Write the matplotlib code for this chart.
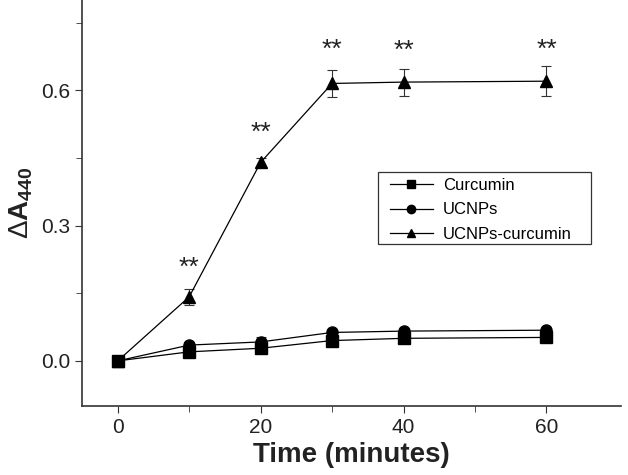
import matplotlib.pyplot as plt
from matplotlib.ticker import MultipleLocator, FixedLocator
from matplotlib.lines import Line2D
from matplotlib.patches import Rectangle

plt.rcParams['font.family'] = ['Liberation Sans', 'DejaVu Sans']
plt.rcParams['mathtext.fontset'] = 'custom'
plt.rcParams['mathtext.rm'] = 'Liberation Sans'
plt.rcParams['mathtext.bf'] = 'Liberation Sans:bold'

# data
time = [0, 10, 20, 30, 40, 60]
curcumin = [0.0, 0.020, 0.028, 0.045, 0.050, 0.052]
curcumin_err = [0.004, 0.006, 0.006, 0.006, 0.005, 0.005]
ucnps = [0.0, 0.035, 0.042, 0.063, 0.066, 0.068]
ucnps_err = [0.004, 0.006, 0.010, 0.006, 0.005, 0.005]
ucnps_cur = [0.0, 0.142, 0.440, 0.615, 0.618, 0.620]
ucnps_cur_err = [0.005, 0.018, 0.010, 0.030, 0.030, 0.033]
star_t = [10, 20, 30, 40, 60]
star_y = [0.207, 0.505, 0.690, 0.687, 0.690]
labels = ['Curcumin', 'UCNPs', 'UCNPs-curcumin']
markers = ['s', 'o', '^']

fig = plt.figure(figsize=(6.28, 4.75), dpi=100)
ax = fig.add_axes([0.1306, 0.1453, 0.859, 0.8547])

kw = dict(color='black', ecolor='#333333', elinewidth=0.8, capsize=3.5, capthick=0.8,
          linewidth=0.9, markersize=8)
for ys, es, m in zip([curcumin, ucnps, ucnps_cur], [curcumin_err, ucnps_err, ucnps_cur_err], markers):
    ax.errorbar(time, ys, yerr=es, marker=m, **kw)

for t, y in zip(star_t, star_y):
    ax.text(t, y, '**', ha='center', va='center', fontsize=19, color='#222222')

ax.set_xlim(-5, 70.5)
ax.set_ylim(-0.1, 0.8)
ax.xaxis.set_major_locator(MultipleLocator(20))
ax.xaxis.set_minor_locator(FixedLocator([10, 30, 50]))
ax.set_yticks([0.0, 0.3, 0.6])
ax.yaxis.set_minor_locator(FixedLocator([0.15, 0.45, 0.75]))
ax.yaxis.set_major_formatter(plt.FormatStrFormatter('%.1f'))
ax.tick_params(which='both', direction='out', labelsize=15, color='#333333',
               labelcolor='#222222')
ax.tick_params(which='major', length=5)
ax.tick_params(which='minor', length=4)

for s in ['top', 'right']:
    ax.spines[s].set_visible(False)
for s in ['left', 'bottom']:
    ax.spines[s].set_color('#333333')
    ax.spines[s].set_linewidth(1.2)

ax.set_xlabel('Time (minutes)', fontsize=20, fontweight='bold', color='#222222')
ax.set_ylabel(r'$\Delta\mathbf{A_{440}}$', fontsize=20, color='#222222')

# legend with its own box
handles = [Line2D([], [], color='black', linewidth=0.9, marker=m, markersize=6) for m in markers]
ax.legend(handles, labels, loc='upper left', bbox_to_anchor=(0.570, 0.561), fontsize=12,
          frameon=False, handlelength=2.6, handletextpad=0.6, borderpad=0,
          labelspacing=0.55, borderaxespad=0)
ax.add_patch(Rectangle((0.548, 0.399), 0.396, 0.177, transform=ax.transAxes,
                       fill=False, edgecolor='#333333', linewidth=0.9, zorder=5))

fig.savefig('out.png', dpi=100)
